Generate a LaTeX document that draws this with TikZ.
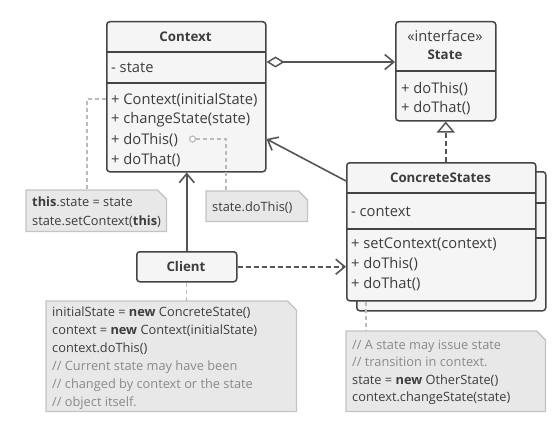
\documentclass[tikz,border=0pt]{standalone}
\usepackage{fontspec}
\setmainfont{Open Sans}
\usetikzlibrary{arrows.meta}
\definecolor{boxfill}{HTML}{F5F5F5}
\definecolor{boxline}{HTML}{444444}
\definecolor{arrline}{HTML}{555555}
\definecolor{notefill}{HTML}{E8E8E8}
\definecolor{noteline}{HTML}{C4C4C4}
\definecolor{cmt}{HTML}{8A8A8A}
\definecolor{conn}{HTML}{BBBBBB}
\tikzset{
  cls/.style={draw=boxline, fill=boxfill, line width=1.5pt, rounded corners=3pt, anchor=north west, inner sep=0},
  div/.style={draw=boxline, line width=1.5pt},
  txt/.style={font=\fontsize{14.7}{17}\selectfont, text=boxline!90!black, inner sep=0, anchor=west, text height=10pt, text depth=0pt},
  hdr/.style={txt, anchor=center, font=\fontsize{13.3}{16}\selectfont\bfseries},
  ntxt/.style={font=\fontsize{12.8}{15}\selectfont, text=boxline!90!black, inner sep=0, anchor=west, text height=9pt, text depth=0pt},
  ctxt/.style={ntxt, text=cmt},
  notebox/.style={anchor=north west, inner sep=0, draw=none},
  notedraw/.style={draw=noteline, fill=notefill, line width=1.2pt},
  arr/.style={draw=arrline, line width=1.6pt, -{Straight Barb[length=9pt,width=15pt,line width=1.6pt]}},
  darr/.style={arr, dash pattern=on 5pt off 3pt},
  nconn/.style={draw=conn, line width=1.2pt, dash pattern=on 4pt off 3pt},
}
\newcommand\foldnote[1]{%
  \path[notedraw] (#1.north west) -- ([xshift=-9pt]#1.north east) -- ([yshift=-9pt]#1.north east) -- (#1.south east) -- (#1.south west) -- cycle;
  \draw[noteline, line width=1.2pt, line join=round] ([xshift=-9pt]#1.north east) -- ([yshift=-9pt]#1.north east);}
\begin{document}
\begin{tikzpicture}[x=1pt, y=-1pt]
\useasboundingbox[fill=white] (0,0) rectangle (552,428);

% ---- Context ----
\node[cls, minimum width=159pt, minimum height=150pt] (ctx) at (106,21) {};
\draw[div] (106,52) -- (265,52);
\draw[div] (106,83) -- (265,83);
\node[hdr] (ctxh) at (185.5,37) {Context};
\node[txt] (ctxa) at (111,68) {- state};
\node[txt] (ctxm1) at (111,99) {+ Context(initialState)};
\node[txt] (ctxm2) at (111,119) {+ changeState(state)};
\node[txt] (ctxm3) at (111,139) {+ doThis()};
\node[txt] (ctxm4) at (111,159) {+ doThat()};

% ---- State ----
\node[cls, minimum width=100pt, minimum height=99pt] (st) at (395,21) {};
\draw[div] (395,71) -- (495,71);
\node[txt, anchor=center] (sth1) at (445,37) {«interface»};
\node[hdr] (sth2) at (445,55) {State};
\node[txt] (stm1) at (401,88) {+ doThis()};
\node[txt] (stm2) at (401,108) {+ doThat()};

% ---- ConcreteStates (shadow + main) ----
\node[cls, minimum width=189pt, minimum height=139pt] (css) at (356,171) {};
\draw[div] (535,203) -- (545,203);
\draw[div] (535,238) -- (545,238);
\node[cls, minimum width=189pt, minimum height=138pt] (cs) at (346,162) {};
\draw[div] (346,193) -- (535,193);
\draw[div] (346,229) -- (535,229);
\node[hdr] (csh) at (440.5,177) {ConcreteStates};
\node[txt] (csa) at (351,211) {- context};
\node[txt] (csm1) at (351,243) {+ setContext(context)};
\node[txt] (csm2) at (351,263) {+ doThis()};
\node[txt] (csm3) at (351,283) {+ doThat()};

% ---- Client ----
\node[cls, minimum width=100pt, minimum height=30pt] (cl) at (136,251) {};
\node[hdr] (clh) at (186,266) {Client};

% ---- Notes ----
\node[notebox, minimum width=140pt, minimum height=41pt] (n1) at (26,190) {};
\foldnote{n1}
\node[ntxt] at (32,202) {\textbf{this}.state = state};
\node[ntxt] at (32,221) {state.setContext(\textbf{this})};

\node[notebox, minimum width=101pt, minimum height=30pt] (n2) at (206,191) {};
\foldnote{n2}
\node[ntxt] at (212,207) {state.doThis()};

\node[notebox, minimum width=250pt, minimum height=110pt] (n3) at (46,301) {};
\foldnote{n3}
\node[ntxt] at (52,312) {initialState = \textbf{new} ConcreteState()};
\node[ntxt] at (52,330) {context = \textbf{new} Context(initialState)};
\node[ntxt] at (52,348) {context.doThis()};
\node[ctxt] at (52,366) {// Current state may have been};
\node[ctxt] at (52,384) {// changed by context or the state};
\node[ctxt] at (52,402) {// object itself.};

\node[notebox, minimum width=199pt, minimum height=80pt] (n4) at (346,331) {};
\foldnote{n4}
\node[ctxt] at (352,345) {// A state may issue state};
\node[ctxt] at (352,362) {// transition in context.};
\node[ntxt] at (352,380) {state = \textbf{new} OtherState()};
\node[ntxt] at (352,397) {context.changeState(state)};

% ---- Note connectors ----
\coordinate (dot) at ([xshift=-74pt]ctx.north east |- ctxm3.west);
\draw[nconn] ([yshift=-78pt]ctx.north west) -| ([xshift=61pt]n1.north west);
\draw[nconn] ([xshift=3pt]dot) -| ([xshift=20pt]n2.north west);
\draw[conn, line width=1.2pt, fill=white] (dot) circle (3pt);
\draw[nconn] (cl.south) -- (cl.south |- n3.north);
\draw[nconn] ([xshift=20pt]cs.south west) -- ([xshift=20pt]n4.north west);

% ---- Relations ----
\draw[arr, {Diamond[open,length=18pt,width=11pt,line width=1.5pt]}-{Straight Barb[length=9pt,width=15pt,line width=1.6pt]}] ([yshift=-41pt]ctx.north east) -- ([yshift=-41pt]st.north west);
\draw[draw=arrline, line width=1.6pt, dash pattern=on 5pt off 3pt, -{Triangle[open,length=11pt,width=18pt,line width=1.5pt,fill=white]}] (st.south |- cs.north) -- (st.south);
\draw[arr] ([yshift=-19pt]cs.north west) -- ([yshift=-118pt]ctx.north east);
\draw[arr] (cl.north) -- (cl.north |- ctx.south);
\draw[darr] (cl.east) -- (cl.east -| cs.west);
\end{tikzpicture}
\end{document}
